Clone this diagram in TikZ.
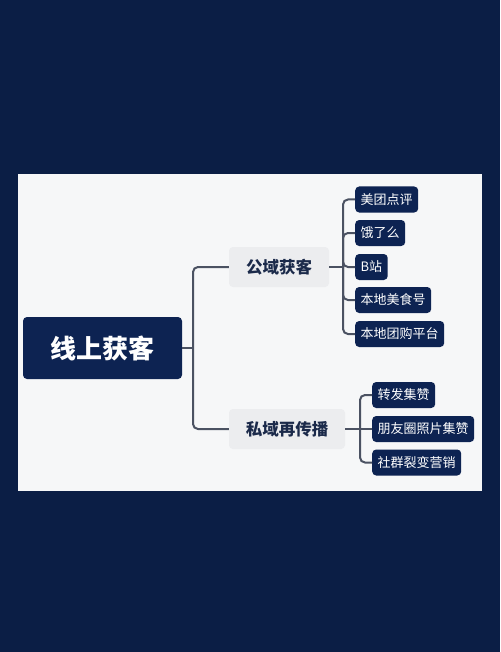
\documentclass[tikz,border=0pt]{standalone}
\usepackage{fontspec}
\newfontfamily\cjk{Noto Sans CJK SC}
\definecolor{navybg}{HTML}{0B1E45}
\definecolor{panel}{HTML}{F6F7F8}
\definecolor{leaffill}{HTML}{0D2352}
\definecolor{branchfill}{HTML}{ECEDEF}
\definecolor{branchtext}{HTML}{1B2A4A}
\definecolor{connc}{HTML}{4B5262}
\tikzset{
  rootbox/.style={fill=leaffill, rounded corners=4pt, text=white, font=\cjk\bfseries\fontsize{26}{30}\selectfont, minimum width=159pt, minimum height=62pt, inner sep=0pt},
  branchbox/.style={fill=branchfill, rounded corners=4pt, text=branchtext, font=\cjk\bfseries\fontsize{16.5}{20}\selectfont, minimum height=40pt, inner sep=0pt},
  leafbox/.style={fill=leaffill, rounded corners=4pt, text=white, font=\cjk\fontsize{13}{16}\selectfont, minimum height=26pt, inner xsep=5.5pt, inner ysep=0pt},
  conn/.style={draw=connc, line width=2pt, rounded corners=5pt},
}
\begin{document}
\begin{tikzpicture}[x=1pt,y=-1pt]
\fill[navybg] (0,0) rectangle (500,652);
\useasboundingbox (0,0) rectangle (500,652);
\fill[panel] (18,174) rectangle (482,491);
% root
\node[rootbox] (root) at (102.5,348) {线上获客};
% branches
\node[branchbox, minimum width=100pt] (b1) at (279,267) {公域获客};
\node[branchbox, minimum width=116pt] (b2) at (287,429) {私域再传播};
% public leaves
\node[leafbox, anchor=west] (l1) at (355,199.5) {美团点评};
\node[leafbox, anchor=west] (l2) at (355,233) {饿了么};
\node[leafbox, anchor=west] (l3) at (355,267) {B站};
\node[leafbox, anchor=west] (l4) at (355,300) {本地美食号};
\node[leafbox, anchor=west] (l5) at (355,334) {本地团购平台};
% private leaves
\node[leafbox, anchor=west] (p1) at (372,395) {转发集赞};
\node[leafbox, anchor=west] (p2) at (372,429) {朋友圈照片集赞};
\node[leafbox, anchor=west] (p3) at (372,462.5) {社群裂变营销};
% connectors root
\coordinate (rj) at (193,348);
\draw[conn, rounded corners=0pt] (root.east) -- (rj);
\draw[conn] (b1.west) -| (rj) |- (b2.west);
% public connectors
\coordinate (pj) at (343,267);
\draw[conn, rounded corners=0pt] (b1.east) -- (pj);
\draw[conn] (l1.west) -| (pj) |- (l5.west);
\foreach \n in {l2,l3,l4} {
  \draw[conn] (pj) |- (\n.west);
}
% private connectors
\coordinate (qj) at (360,429);
\draw[conn, rounded corners=0pt] (b2.east) -- (qj);
\draw[conn] (p1.west) -| (qj) |- (p3.west);
\draw[conn] (qj) -- (p2.west);
\end{tikzpicture}
\end{document}
